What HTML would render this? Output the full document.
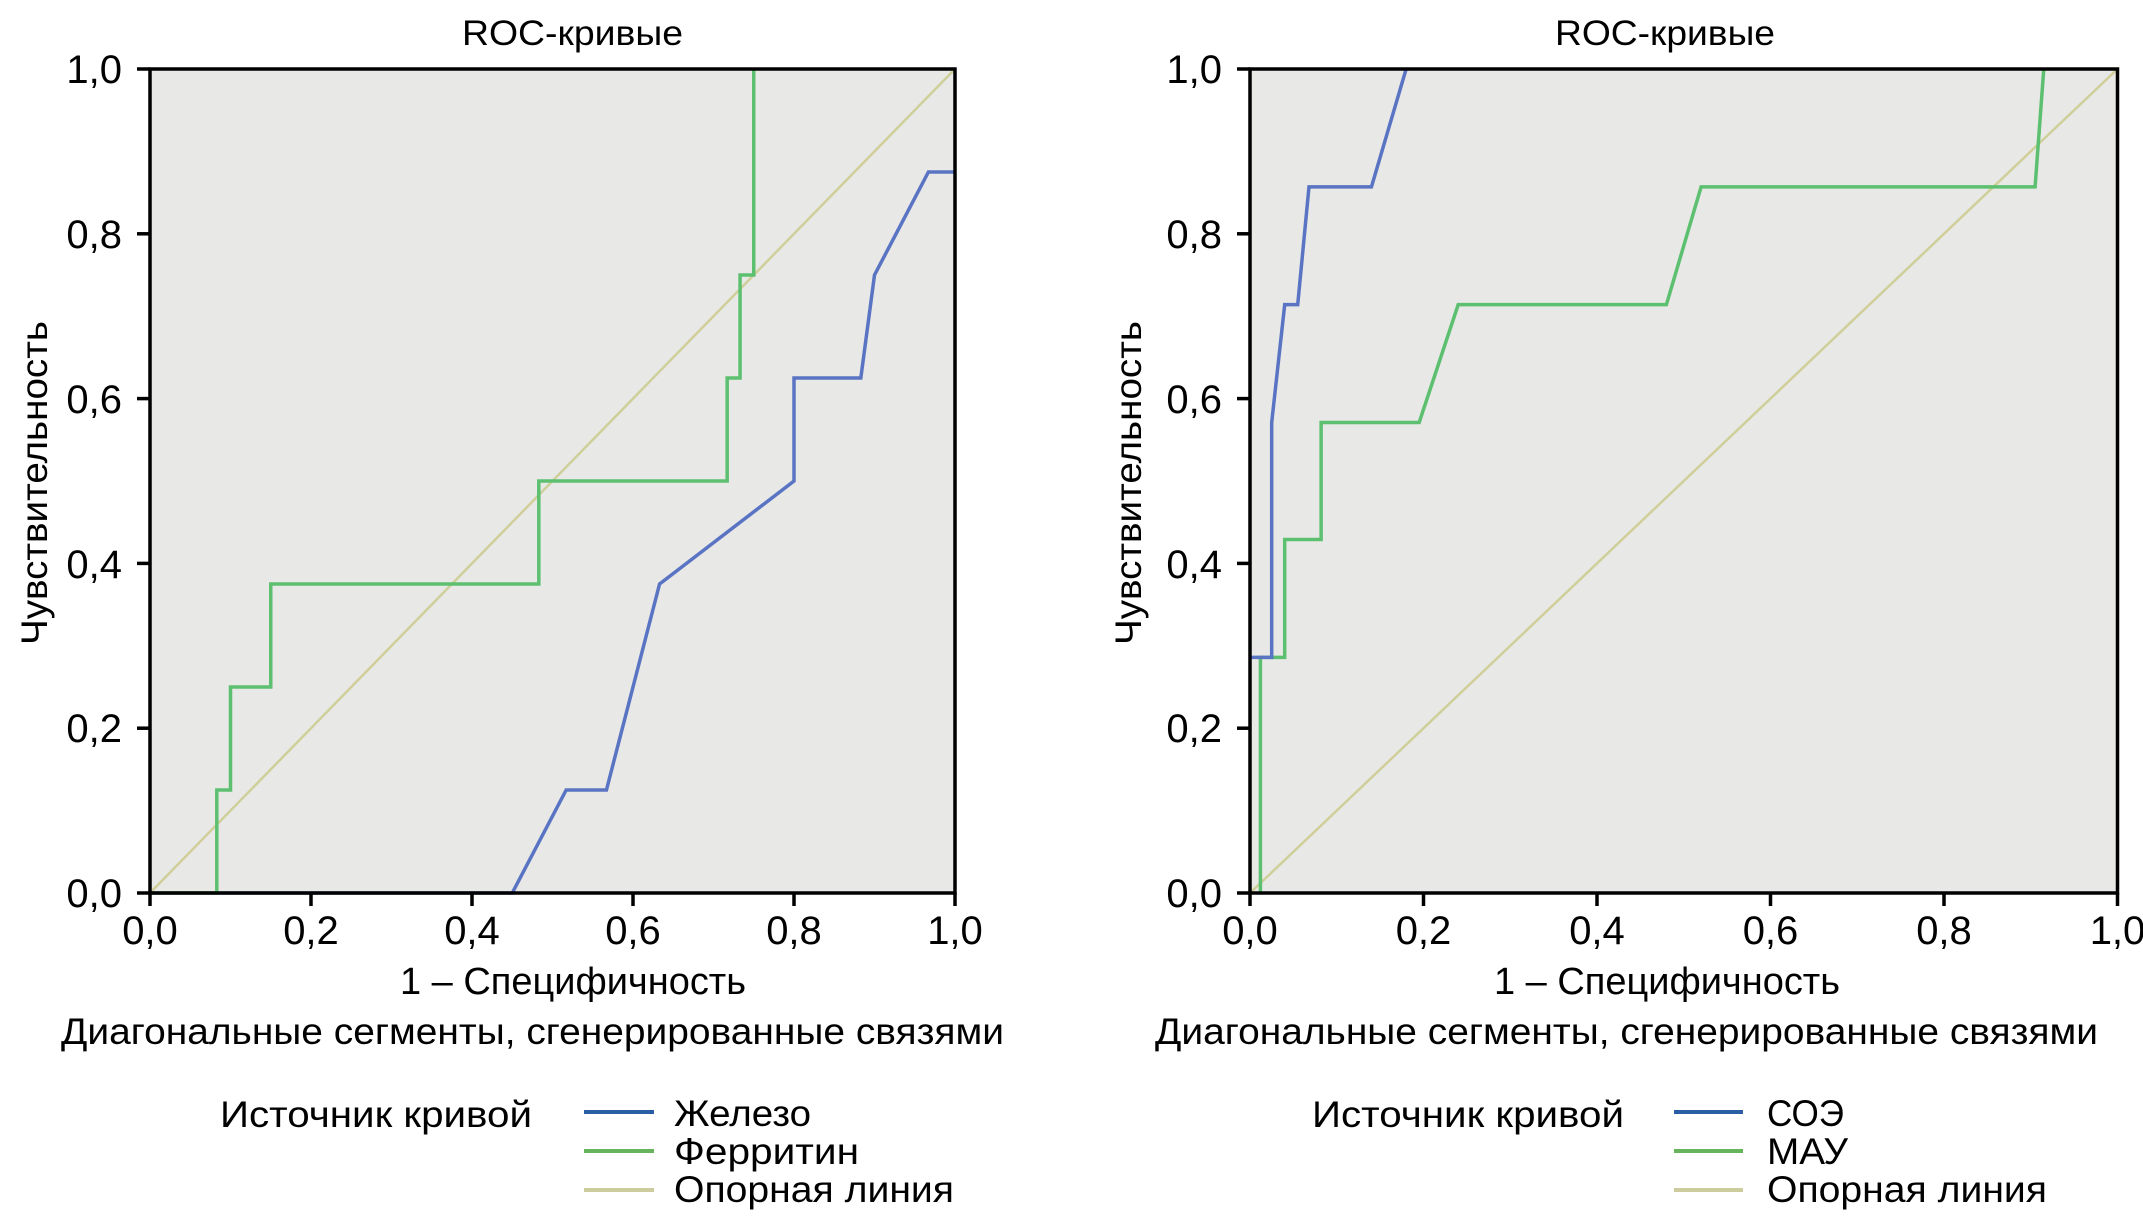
<!DOCTYPE html>
<html><head><meta charset="utf-8"><style>
html,body{margin:0;padding:0;background:#fff;}
svg{display:block;}
text{font-family:"Liberation Sans",sans-serif;fill:#000;}
</style></head><body>
<svg width="2143" height="1222" viewBox="0 0 2143 1222" xmlns="http://www.w3.org/2000/svg">
<!-- LEFT PLOT -->
<rect x="150" y="69" width="805" height="824" fill="#e8e8e6"/>
<g transform="translate(150,893) scale(805,-824)" fill="none">
<line x1="0" y1="0" x2="1" y2="1" stroke="#cfcf9a" stroke-width="2.5" vector-effect="non-scaling-stroke"/>
<polyline points="0,0 0.45,0 0.517,0.125 0.567,0.125 0.633,0.375 0.8,0.5 0.8,0.625 0.883,0.625 0.9,0.75 0.967,0.875 1,0.875" stroke="#5a74c4" stroke-width="3.5" vector-effect="non-scaling-stroke"/>
<polyline points="0,0 0.083,0 0.083,0.125 0.1,0.125 0.1,0.25 0.15,0.25 0.15,0.375 0.483,0.375 0.483,0.5 0.717,0.5 0.717,0.625 0.733,0.625 0.733,0.75 0.75,0.75 0.75,1" stroke="#5cc070" stroke-width="3.5" vector-effect="non-scaling-stroke"/>
</g>
<rect x="150" y="69" width="805" height="824" fill="none" stroke="#000" stroke-width="3.5"/>
<g stroke="#000" stroke-width="3.5">
<line x1="137" y1="69" x2="150" y2="69"/><line x1="137" y1="233.8" x2="150" y2="233.8"/><line x1="137" y1="398.6" x2="150" y2="398.6"/><line x1="137" y1="563.4" x2="150" y2="563.4"/><line x1="137" y1="728.2" x2="150" y2="728.2"/><line x1="137" y1="893" x2="150" y2="893"/>
<line x1="150" y1="893" x2="150" y2="906"/><line x1="311" y1="893" x2="311" y2="906"/><line x1="472" y1="893" x2="472" y2="906"/><line x1="633" y1="893" x2="633" y2="906"/><line x1="794" y1="893" x2="794" y2="906"/><line x1="955" y1="893" x2="955" y2="906"/>
</g>
<g font-size="40" text-anchor="end">
<text x="122" y="83">1,0</text><text x="122" y="248">0,8</text><text x="122" y="413">0,6</text><text x="122" y="578">0,4</text><text x="122" y="742">0,2</text><text x="122" y="907">0,0</text>
</g>
<g font-size="40" text-anchor="middle">
<text x="150" y="944">0,0</text><text x="311" y="944">0,2</text><text x="472" y="944">0,4</text><text x="633" y="944">0,6</text><text x="794" y="944">0,8</text><text x="955" y="944">1,0</text>
</g>
<text x="462" y="45" font-size="35" textLength="221" lengthAdjust="spacingAndGlyphs">ROC-кривые</text>
<text x="400" y="994" font-size="38" textLength="346" lengthAdjust="spacingAndGlyphs">1 – Специфичность</text>
<text x="61" y="1044" font-size="37" textLength="943" lengthAdjust="spacingAndGlyphs">Диагональные сегменты, сгенерированные связями</text>
<text transform="translate(47,645) rotate(-90)" font-size="37" textLength="324" lengthAdjust="spacingAndGlyphs">Чувствительность</text>
<text x="220" y="1127" font-size="37" textLength="312" lengthAdjust="spacingAndGlyphs">Источник кривой</text>
<line x1="584" y1="1112" x2="654" y2="1112" stroke="#2a5ea6" stroke-width="4"/>
<line x1="584" y1="1151" x2="654" y2="1151" stroke="#66b45c" stroke-width="4"/>
<line x1="584" y1="1190" x2="654" y2="1190" stroke="#cccc9c" stroke-width="4"/>
<text x="674" y="1126" font-size="37" textLength="137" lengthAdjust="spacingAndGlyphs">Железо</text>
<text x="674" y="1164" font-size="37" textLength="185" lengthAdjust="spacingAndGlyphs">Ферритин</text>
<text x="674" y="1202" font-size="37" textLength="280" lengthAdjust="spacingAndGlyphs">Опорная линия</text>

<!-- RIGHT PLOT -->
<rect x="1250" y="69" width="867.5" height="824" fill="#e8e8e6"/>
<g transform="translate(1250,893) scale(867.5,-824)" fill="none">
<line x1="0" y1="0" x2="1" y2="1" stroke="#cfcf9a" stroke-width="2.5" vector-effect="non-scaling-stroke"/>
<polyline points="0.012,0 0.012,0.286 0.04,0.286 0.04,0.429 0.082,0.429 0.082,0.571 0.195,0.571 0.24,0.714 0.48,0.714 0.52,0.857 0.905,0.857 0.915,1" stroke="#5cc070" stroke-width="3.5" vector-effect="non-scaling-stroke"/>
<polyline points="0,0.286 0.025,0.286 0.025,0.571 0.04,0.714 0.055,0.714 0.068,0.857 0.14,0.857 0.18,1" stroke="#5a74c4" stroke-width="3.5" vector-effect="non-scaling-stroke"/>
</g>
<rect x="1250" y="69" width="867.5" height="824" fill="none" stroke="#000" stroke-width="3.5"/>
<g stroke="#000" stroke-width="3.5">
<line x1="1237" y1="69" x2="1250" y2="69"/><line x1="1237" y1="233.8" x2="1250" y2="233.8"/><line x1="1237" y1="398.6" x2="1250" y2="398.6"/><line x1="1237" y1="563.4" x2="1250" y2="563.4"/><line x1="1237" y1="728.2" x2="1250" y2="728.2"/><line x1="1237" y1="893" x2="1250" y2="893"/>
<line x1="1250" y1="893" x2="1250" y2="906"/><line x1="1423.5" y1="893" x2="1423.5" y2="906"/><line x1="1597" y1="893" x2="1597" y2="906"/><line x1="1770.5" y1="893" x2="1770.5" y2="906"/><line x1="1944" y1="893" x2="1944" y2="906"/><line x1="2117.5" y1="893" x2="2117.5" y2="906"/>
</g>
<g font-size="40" text-anchor="end">
<text x="1222" y="83">1,0</text><text x="1222" y="248">0,8</text><text x="1222" y="413">0,6</text><text x="1222" y="578">0,4</text><text x="1222" y="742">0,2</text><text x="1222" y="907">0,0</text>
</g>
<g font-size="40" text-anchor="middle">
<text x="1250" y="944">0,0</text><text x="1423.5" y="944">0,2</text><text x="1597" y="944">0,4</text><text x="1770.5" y="944">0,6</text><text x="1944" y="944">0,8</text><text x="2117.5" y="944">1,0</text>
</g>
<text x="1555" y="45" font-size="35" textLength="220" lengthAdjust="spacingAndGlyphs">ROC-кривые</text>
<text x="1494" y="994" font-size="38" textLength="346" lengthAdjust="spacingAndGlyphs">1 – Специфичность</text>
<text x="1155" y="1044" font-size="37" textLength="943" lengthAdjust="spacingAndGlyphs">Диагональные сегменты, сгенерированные связями</text>
<text transform="translate(1141,645) rotate(-90)" font-size="37" textLength="324" lengthAdjust="spacingAndGlyphs">Чувствительность</text>
<text x="1312" y="1127" font-size="37" textLength="312" lengthAdjust="spacingAndGlyphs">Источник кривой</text>
<line x1="1674" y1="1112" x2="1743" y2="1112" stroke="#2a5ea6" stroke-width="4"/>
<line x1="1674" y1="1151" x2="1743" y2="1151" stroke="#66b45c" stroke-width="4"/>
<line x1="1674" y1="1190" x2="1743" y2="1190" stroke="#cccc9c" stroke-width="4"/>
<text x="1767" y="1126" font-size="37" textLength="77" lengthAdjust="spacingAndGlyphs">СОЭ</text>
<text x="1767" y="1164" font-size="37" textLength="81" lengthAdjust="spacingAndGlyphs">МАУ</text>
<text x="1767" y="1202" font-size="37" textLength="280" lengthAdjust="spacingAndGlyphs">Опорная линия</text>
</svg>
</body></html>
